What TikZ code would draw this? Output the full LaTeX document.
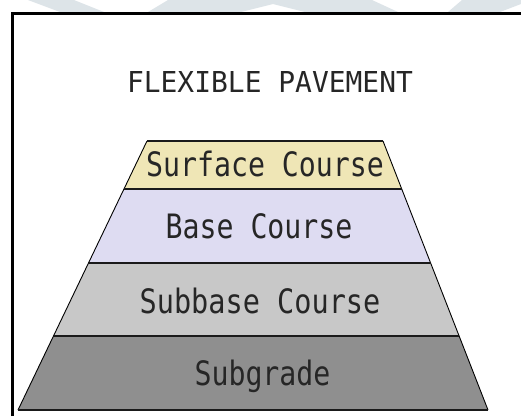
\documentclass[tikz,border=0pt]{standalone}
\usepackage{fontspec}
% monoline lettering, stretched per text size
\newfontfamily\cadtitle{DejaVu Sans Mono}[FakeStretch=0.97]
\newfontfamily\cadlabel{DejaVu Sans Mono}[FakeStretch=0.84]
\newfontfamily\cadwide{DejaVu Sans Mono}[FakeStretch=0.85]
\definecolor{surfacecol}{HTML}{EFE6B6}
\definecolor{basecol}{HTML}{DEDCF2}
\definecolor{subbasecol}{HTML}{C8C8C8}
\definecolor{subgradecol}{HTML}{8F8F8F}
\definecolor{markcol}{HTML}{DDE4E8}
\definecolor{inkcol}{HTML}{1A1A1A}
\definecolor{textcol}{HTML}{262626}
\begin{document}
\begin{tikzpicture}[x=1pt,y=-1pt,
  layerfill/.style={fill=#1, draw=none},
  slantedge/.style={draw=black, line width=0.9pt},
  levelline/.style={draw=inkcol, line width=2pt},
  titletext/.style={anchor=base, inner sep=0pt, text=textcol, font=\cadtitle\fontsize{28.8}{34}\selectfont},
  labeltext/.style={anchor=base, inner sep=0pt, text=textcol, font=\cadlabel\fontsize{33.6}{40}\selectfont},
  widelabeltext/.style={anchor=base, inner sep=0pt, text=textcol, font=\cadwide\fontsize{33.6}{40}\selectfont},
  bgmark/.style={fill=markcol, draw=none}]
\useasboundingbox (0,0) rectangle (521,416);
\fill[white] (0,0) rectangle (521,416);

% faint banner shapes along the top edge
\fill[bgmark] (28,0) -- (74,0) -- (104,12) -- (60,12) -- cycle;
\fill[bgmark] (168,0) -- (372,0) -- (398,12) -- (305,12) -- (273,4) -- (241,12) -- (148,12) -- cycle;
\fill[bgmark] (462,0) -- (521,0) -- (521,4) -- (500,12) -- (448,12) -- cycle;

% frame
\draw[line width=3pt, black] (12,416) -- (12,13) -- (521,13);

% layer corner points
\coordinate (L0) at (147,141);  \coordinate (R0) at (383,141);
\coordinate (L1) at (124,189);  \coordinate (R1) at (401.7,189);
\coordinate (L2) at (88.5,263); \coordinate (R2) at (430.6,263);
\coordinate (L3) at (53.5,336); \coordinate (R3) at (459.1,336);
\coordinate (L4) at (18,410);   \coordinate (R4) at (488,410);

% layers
\fill[layerfill=surfacecol]  (L0) -- (R0) -- (R1) -- (L1) -- cycle;
\fill[layerfill=basecol]     (L1) -- (R1) -- (R2) -- (L2) -- cycle;
\fill[layerfill=subbasecol]  (L2) -- (R2) -- (R3) -- (L3) -- cycle;
\fill[layerfill=subgradecol] (L3) -- (R3) -- (R4) -- (L4) -- cycle;

% sloping sides
\draw[slantedge] (L0) -- (L4);
\draw[slantedge] (R0) -- (R4);

% level lines
\draw[levelline] (L0) -- (R0);
\draw[levelline] (L1) -- (R1);
\draw[levelline] (L2) -- (R2);
\draw[levelline] (L3) -- (R3);
\draw[levelline] (L4) -- (R4);

% labels
\node[titletext] (title) at (270,92.5) {FLEXIBLE PAVEMENT};
\node[labeltext] (surface) at (265,176) {Surface Course};
\node[labeltext] (base) at (259,238) {Base Course};
\node[widelabeltext] (subbase) at (260,313) {Subbase Course};
\node[labeltext] (subgrade) at (262.5,385) {Subgrade};
\end{tikzpicture}
\end{document}
